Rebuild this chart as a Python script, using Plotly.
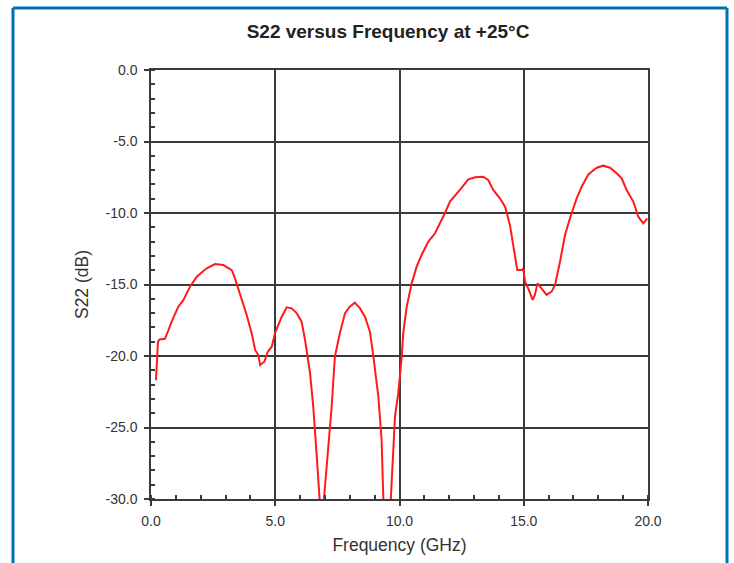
import plotly.graph_objects as go

# Data
freq_ghz = [0.20, 0.23, 0.28, 0.35, 0.56, 0.70, 0.83, 1.10, 1.30, 1.57, 1.84, 2.24, 2.58, 2.91,
            3.25, 3.38, 3.65, 3.85, 4.05, 4.19, 4.32, 4.39, 4.56, 4.70, 4.86, 4.99, 5.26, 5.46,
            5.66, 5.86, 6.06, 6.20, 6.40, 6.53, 6.67, 6.77, 6.86, 6.96, 7.14, 7.27, 7.40, 7.60,
            7.81, 8.00, 8.20, 8.41, 8.61, 8.81, 8.95, 9.15, 9.28, 9.35, 9.50, 9.65, 9.82, 9.95,
            10.09, 10.15, 10.29, 10.49, 10.69, 10.89, 11.16, 11.43, 11.83, 12.03, 12.43, 12.77,
            13.04, 13.37, 13.57, 13.77, 14.04, 14.25, 14.45, 14.65, 14.74, 14.92, 14.98, 15.05,
            15.18, 15.36, 15.45, 15.55, 15.72, 15.92, 16.12, 16.26, 16.46, 16.66, 16.86, 17.13,
            17.33, 17.60, 17.73, 17.94, 18.20, 18.47, 18.74, 18.94, 19.14, 19.41, 19.61, 19.81,
            19.97]
s22_db = [-21.7, -20.5, -19.0, -18.85, -18.8, -18.2, -17.6, -16.55, -16.1, -15.15, -14.45, -13.87,
          -13.57, -13.64, -13.99, -14.57, -15.97, -17.13, -18.4, -19.58, -19.93, -20.63, -20.4,
          -19.7, -19.35, -18.4, -17.25, -16.6, -16.67, -17.0, -17.6, -18.88, -21.2, -23.55, -27.0,
          -30.0, -32.0, -30.0, -26.3, -23.55, -20.05, -18.4, -17.0, -16.55, -16.27, -16.67, -17.25,
          -18.3, -20.05, -22.85, -25.87, -30.0, -32.0, -30.0, -24.2, -22.6, -20.05, -18.4, -16.55,
          -14.92, -13.75, -12.94, -12.0, -11.42, -10.0, -9.2, -8.39, -7.65, -7.5, -7.46, -7.69,
          -8.39, -8.97, -9.56, -10.9, -12.9, -13.99, -13.99, -13.87, -14.8, -15.27, -16.08, -15.73,
          -14.92, -15.27, -15.73, -15.5, -15.03, -13.4, -11.54, -10.37, -8.97, -8.16, -7.3, -7.11,
          -6.83, -6.69, -6.83, -7.22, -7.57, -8.39, -9.2, -10.26, -10.72, -10.37]

x_tick_vals = [0, 5, 10, 15, 20]
x_tick_text = ["0.0", "5.0", "10.0", "15.0", "20.0"]
y_tick_vals = [0, -5, -10, -15, -20, -25, -30]
y_tick_text = ["0.0", "-5.0", "-10.0", "-15.0", "-20.0", "-25.0", "-30.0"]

title_text = "S22 versus Frequency at +25°C"
x_title = "Frequency (GHz)"
y_title = "S22 (dB)"

FONT = "Liberation Sans, Arial, sans-serif"
AX = "#3a3a3a"
TXT = "#333333"
BLUE = "#0070b0"

fig = go.Figure()
fig.add_trace(go.Scatter(x=freq_ghz, y=s22_db, mode="lines",
                         line=dict(color="#ff1a1a", width=2), showlegend=False))

common = dict(showgrid=True, gridcolor=AX, gridwidth=1.5, showline=True, linecolor=AX,
              linewidth=1.5, mirror=True, zeroline=False, ticks="outside", ticklen=5,
              tickcolor=AX, tickwidth=1.5, tickfont=dict(family=FONT, size=14, color=TXT))

fig.update_xaxes(range=[0, 20], tickvals=x_tick_vals, ticktext=x_tick_text,
                 minor=dict(dtick=1, ticks="inside", ticklen=4, tickcolor=AX, tickwidth=1.5, showgrid=False),
                 ticklabelstandoff=3,
                 title=dict(text=x_title, font=dict(family=FONT, size=17.5, color=TXT), standoff=11),
                 **common)
fig.update_yaxes(range=[-30, 0], tickvals=y_tick_vals, ticktext=y_tick_text,
                 minor=dict(dtick=1, ticks="inside", ticklen=4, tickcolor=AX, tickwidth=1.5, showgrid=False),
                 ticklabelstandoff=4,
                 title=dict(text=y_title, font=dict(family=FONT, size=17.5, color=TXT), standoff=12),
                 **common)

px_w, px_h = 497.0, 429.0
def fx(p):
    return (p - 151) / px_w
def fy(p):
    return (499 - p) / px_h

border = dict(xref="paper", yref="paper", type="line", line=dict(color=BLUE, width=3), layer="below")
fig.update_layout(
    width=734, height=563,
    margin=dict(l=151, r=86, t=70, b=64),
    paper_bgcolor="white", plot_bgcolor="white",
    title=dict(text="<b>" + title_text + "</b>", x=(388 / 734), xanchor="center",
               y=1 - 31 / 563, yanchor="middle",
               font=dict(family=FONT, size=19, color="#222222")),
    shapes=[
        dict(x0=fx(13), x1=fx(13), y0=fy(8), y1=fy(570), **border),
        dict(x0=fx(727), x1=fx(727), y0=fy(8), y1=fy(570), **border),
        dict(x0=fx(13), x1=fx(727), y0=fy(8), y1=fy(8), **border),
    ],
)

fig.write_html("out.html", config={"displayModeBar": False},
               post_script="document.body.style.margin='0';document.body.style.overflow='hidden';")
